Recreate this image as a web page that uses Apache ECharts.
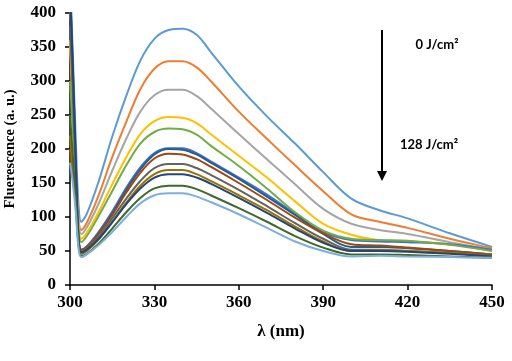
<!DOCTYPE html>
<html>
<head>
<meta charset="utf-8">
<script src="https://cdn.jsdelivr.net/npm/echarts@6/dist/echarts.min.js"></script>
<style>
    html, body {margin: 0; padding: 0; background: #fff}
    #chart {width: 512px; height: 361px}
</style>
</head>
<body>
<div id="chart"></div>
<script>
// wavelength (nm)
let wavelength = [300, 301, 302, 303, 304, 306, 310, 315, 320, 325, 330, 335, 340, 345, 350, 360, 370, 380, 390, 400, 410, 420, 435, 450]

// fluorescence, one curve per dose, 0 J/cm2 down to 128 J/cm2
let f1 = [460, 340, 220, 120, 93, 105, 150, 218, 278, 330, 362, 375, 377, 368, 343, 292, 248, 208, 166, 127, 110, 98, 76, 56]
let f2 = [350, 270, 185, 100, 81, 92, 130, 188, 240, 288, 318, 329, 329, 320, 300, 255, 215, 176, 138, 104, 93, 84, 68, 54]
let f3 = [420, 310, 195, 95, 75, 85, 118, 168, 215, 255, 279, 287, 287, 278, 260, 222, 185, 148, 112, 90, 81, 75, 63, 52]
let f4 = [360, 265, 170, 88, 68, 77, 106, 148, 188, 222, 241, 247, 246, 238, 222, 190, 158, 123, 90, 74, 66, 64, 60, 50]
let f5 = [440, 320, 190, 75, 52, 57, 77, 108, 143, 173, 194, 201, 201, 194, 182, 158, 133, 105, 78, 66, 64, 63, 60, 52]
let f6 = [300, 230, 160, 82, 63, 72, 100, 138, 176, 208, 225, 230, 229, 221, 205, 175, 142, 107, 80, 68, 66, 65, 59, 50]
let f7 = [430, 310, 185, 72, 50, 55, 75, 105, 140, 170, 192, 200, 199, 192, 180, 156, 130, 103, 75, 56, 56, 54, 50, 45]
let f8 = [200, 160, 120, 68, 52, 56, 74, 103, 136, 165, 186, 193, 192, 185, 174, 150, 125, 99, 76, 60, 58, 55, 50, 45]
let f9 = [380, 280, 170, 70, 50, 54, 70, 98, 127, 153, 172, 178, 178, 172, 162, 140, 116, 91, 68, 52, 52, 50, 47, 43]
let f10 = [220, 170, 120, 62, 46, 50, 66, 93, 121, 146, 163, 169, 169, 163, 153, 132, 110, 86, 64, 50, 51, 50, 47, 42]
let f11 = [440, 320, 190, 70, 48, 52, 67, 92, 119, 142, 158, 163, 163, 158, 149, 128, 106, 83, 62, 50, 50, 49, 46, 42]
let f12 = [250, 190, 130, 60, 43, 46, 60, 83, 107, 128, 142, 146, 146, 141, 132, 113, 93, 72, 55, 45, 45, 44, 42, 40]
let f13 = [180, 150, 110, 55, 41, 45, 58, 78, 100, 120, 132, 135, 135, 130, 122, 104, 84, 64, 50, 42, 43, 42, 41, 40]

let curves = [f1, f2, f3, f4, f5, f6, f7, f8, f9, f10, f11, f12, f13]
let colors = ['#5b9bd5', '#ed7d31', '#a5a5a5', '#ffc000', '#4472c4', '#70ad47', '#255e91',
    '#9e480e', '#636363', '#997300', '#264478', '#43682b', '#7cafdd']

let serif = '"Liberation Serif", "Times New Roman", serif'
let tickFont = {color: '#000', fontFamily: serif, fontWeight: 'bold', fontSize: 17}
let yNameFont = {color: '#000', fontFamily: serif, fontWeight: 'bold', fontSize: 14.5}
let xNameFont = {color: '#000', fontFamily: serif, fontWeight: 'bold', fontSize: 17}

let myChart = echarts.init(document.getElementById('chart'), null, {renderer: 'canvas'})

let series = curves.map(function (ys, i) {
    return {
        type: 'line',
        data: wavelength.map((x, j) => [x, ys[j]]),
        color: colors[i],
        showSymbol: false,
        smooth: 0.35,
        clip: true,
        lineStyle: {width: 2},
        silent: true
    }
})

let option = {
    animation: false,
    grid: {left: 70, right: 20, top: 13, bottom: 76, outerBoundsMode: 'none', containLabel: false},
    xAxis: {
        type: 'value',
        min: 300,
        max: 450,
        interval: 30,
        name: 'λ (nm)',
        nameLocation: 'middle',
        nameGap: 38,
        nameTextStyle: xNameFont,
        axisLine: {lineStyle: {color: '#000', width: 1.5}},
        axisTick: {show: true, inside: false, length: 5, lineStyle: {color: '#000', width: 1.5}},
        axisLabel: Object.assign({margin: 9}, tickFont),
        splitLine: {show: false}
    },
    yAxis: {
        type: 'value',
        min: 0,
        max: 400,
        interval: 50,
        name: 'Fluerescence (a. u.)',
        nameLocation: 'middle',
        nameGap: 52,
        nameTextStyle: yNameFont,
        axisLine: {show: true, lineStyle: {color: '#000', width: 1.5}},
        axisTick: {show: true, inside: false, length: 5, lineStyle: {color: '#000', width: 1.5}},
        axisLabel: Object.assign({margin: 14}, tickFont),
        splitLine: {show: false}
    },
    graphic: [
        {type: 'line', shape: {x1: 382, y1: 30, x2: 382, y2: 173}, style: {stroke: '#000', lineWidth: 2}},
        {type: 'polygon', shape: {points: [[377, 171], [387, 171], [382, 181]]}, style: {fill: '#000'}},
        {type: 'text', x: 437, y: 45, style: {text: '0 J/cm²', fill: '#000', font: 'bold 13px Lato, "Open Sans", sans-serif', align: 'center', verticalAlign: 'middle'}},
        {type: 'text', x: 429, y: 145, style: {text: '128 J/cm²', fill: '#000', font: 'bold 13px Lato, "Open Sans", sans-serif', align: 'center', verticalAlign: 'middle'}}
    ],
    series: series
}

myChart.setOption(option)
</script>
</body>
</html>
